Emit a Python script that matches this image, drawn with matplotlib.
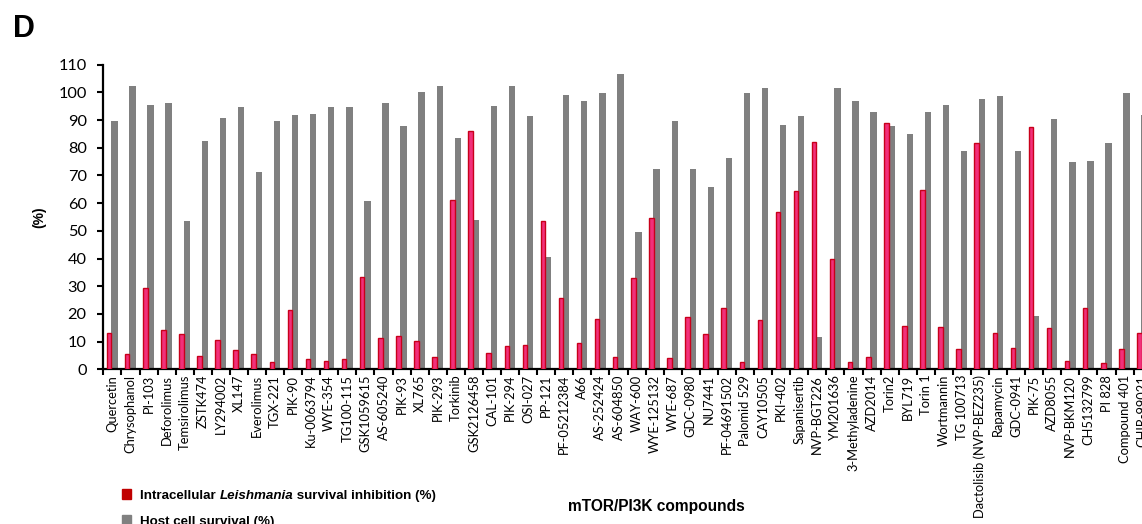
import matplotlib
matplotlib.use('Agg')
import matplotlib.pyplot as plt
import numpy as np
from matplotlib.patches import Rectangle

# ==========================================
# Data: mTOR/PI3K compound screen
# ==========================================
compounds = [
    'Quercetin', 'Chrysophanol', 'PI-103', 'Deforolimus', 'Temsirolimus',
    'ZSTK474', 'LY294002', 'XL147', 'Everolimus', 'TGX-221', 'PIK-90',
    'Ku-0063794', 'WYE-354', 'TG100-115', 'GSK1059615', 'AS-605240',
    'PIK-93', 'XL765', 'PIK-293', 'Torkinib', 'GSK2126458', 'CAL-101',
    'PIK-294', 'OSI-027', 'PP-121', 'PF-05212384', 'A66', 'AS-252424',
    'AS-604850', 'WAY-600', 'WYE-125132', 'WYE-687', 'GDC-0980', 'NU7441',
    'PF-04691502', 'Palomid 529', 'CAY10505', 'PKI-402', 'Sapanisertib',
    'NVP-BGT226', 'YM201636', '3-Methyladenine', 'AZD2014', 'Torin2',
    'BYL719', 'Torin 1', 'Wortmannin', 'TG 100713', 'Dactolisib (NVP-BEZ235)',
    'Rapamycin', 'GDC-0941', 'PIK-75', 'AZD8055', 'NVP-BKM120', 'CH5132799',
    'PI 828', 'Compound 401', 'CHIR-99021',
]

# Intracellular Leishmania survival inhibition (%)
inhibition = [
    13.0, 5.4, 29.5, 14.2, 12.6, 4.9, 10.6, 7.0, 5.4, 2.7, 21.4,
    3.6, 3.1, 3.6, 33.4, 11.3, 12.1, 10.1, 4.6, 61.1, 86.0, 6.0,
    8.5, 8.9, 53.4, 25.7, 9.4, 18.0, 4.6, 33.0, 54.8, 4.0, 19.0, 12.6,
    22.3, 2.7, 17.8, 56.8, 64.4, 82.1, 39.8, 2.5, 4.6, 89.1,
    15.6, 64.8, 15.4, 7.3, 81.6, 13.2, 7.6, 87.6, 15.0, 3.1, 22.3,
    2.4, 7.2, 13.0,
]

# Host cell survival (%)
host_survival = [
    89.8, 102.3, 95.5, 96.0, 53.6, 82.6, 90.6, 94.6, 71.2, 89.8, 91.8,
    92.2, 94.6, 94.6, 60.8, 96.3, 87.7, 100.3, 102.3, 83.4, 53.9, 95.1,
    102.3, 91.5, 40.7, 99.0, 97.0, 99.9, 106.6, 49.6, 72.2, 89.8, 72.2, 65.7,
    76.2, 99.9, 101.5, 88.2, 91.5, 11.8, 101.5, 97.0, 93.0, 87.9,
    85.0, 93.0, 95.5, 79.0, 97.5, 98.7, 79.0, 19.4, 90.3, 75.0, 75.4,
    81.8, 99.9, 91.8,
]

y_ticks = list(range(0, 111, 10))

# ==========================================
# Figure
# ==========================================
RED_FILL = '#f2307a'
RED_EDGE = '#c8001a'
GRAY = '#808080'
tick_font = 'Lato'
bold_font = 'Liberation Sans'

fig = plt.figure(figsize=(11.42, 5.24), dpi=100)
# axes runs slightly past the right edge, like the cropped source panel
ax = fig.add_axes([0.0905, 0.2952, 0.918, 0.5813])

x = np.arange(len(compounds))
ax.bar(x - 0.18, inhibition, width=0.25, color=RED_FILL, edgecolor=RED_EDGE,
       linewidth=1.0, zorder=3)
ax.bar(x + 0.11, host_survival, width=0.35, color=GRAY, edgecolor='none', zorder=2)

ax.set_xlim(-0.5, len(compounds) - 0.5)
ax.set_ylim(0, 110)
ax.set_yticks(y_ticks)
ax.set_yticklabels([str(v) for v in y_ticks], fontsize=11.8, family=tick_font)

ax.set_xticks(x)
ax.set_xticklabels(compounds, rotation=90, fontsize=9.3, family=tick_font)
ax.set_xticks(np.arange(-0.5, len(compounds), 1.0), minor=True)
ax.tick_params(axis='x', which='major', length=0, pad=4)
ax.tick_params(axis='x', which='minor', length=4, width=1.5, direction='out')
ax.tick_params(axis='y', length=4, width=1.5, direction='out', pad=8)

for side in ['top', 'right']:
    ax.spines[side].set_visible(False)
for side in ['left', 'bottom']:
    ax.spines[side].set_linewidth(1.6)

ax.set_ylabel('(%)', fontsize=10, fontweight='bold', family=bold_font, labelpad=9)
fig.text(0.575, 0.02, 'mTOR/PI3K compounds', ha='center', va='bottom',
         fontsize=11.2, fontweight='bold', family=bold_font)

# panel letter
fig.text(0.011, 0.93, 'D', fontsize=22, fontweight='bold', family=bold_font)

# ==========================================
# Legend (drawn by hand so Leishmania can be italic)
# ==========================================
fig.patches.append(Rectangle((122 / 1142, 1 - 499 / 524), 9 / 1142, 10 / 524,
                             transform=fig.transFigure, color='#c00000'))
fig.patches.append(Rectangle((122 / 1142, 1 - 525 / 524), 9 / 1142, 10 / 524,
                             transform=fig.transFigure, color=GRAY))

renderer = fig.canvas.get_renderer()
lx, ly = 140 / 1142, 1 - 499 / 524
parts = [('Intracellular ', 'normal'), ('Leishmania', 'italic'),
         (' survival inhibition (%)', 'normal')]
for txt, style in parts:
    t = fig.text(lx, ly, txt, fontsize=9.6, fontweight='bold', style=style,
                 family=bold_font, va='baseline')
    bb = t.get_window_extent(renderer=renderer)
    lx += bb.width / fig.bbox.width
fig.text(140 / 1142, 1 - 525 / 524, 'Host cell survival (%)', fontsize=9.6,
         fontweight='bold', family=bold_font, va='baseline')

fig.savefig('out.png', dpi=100)
